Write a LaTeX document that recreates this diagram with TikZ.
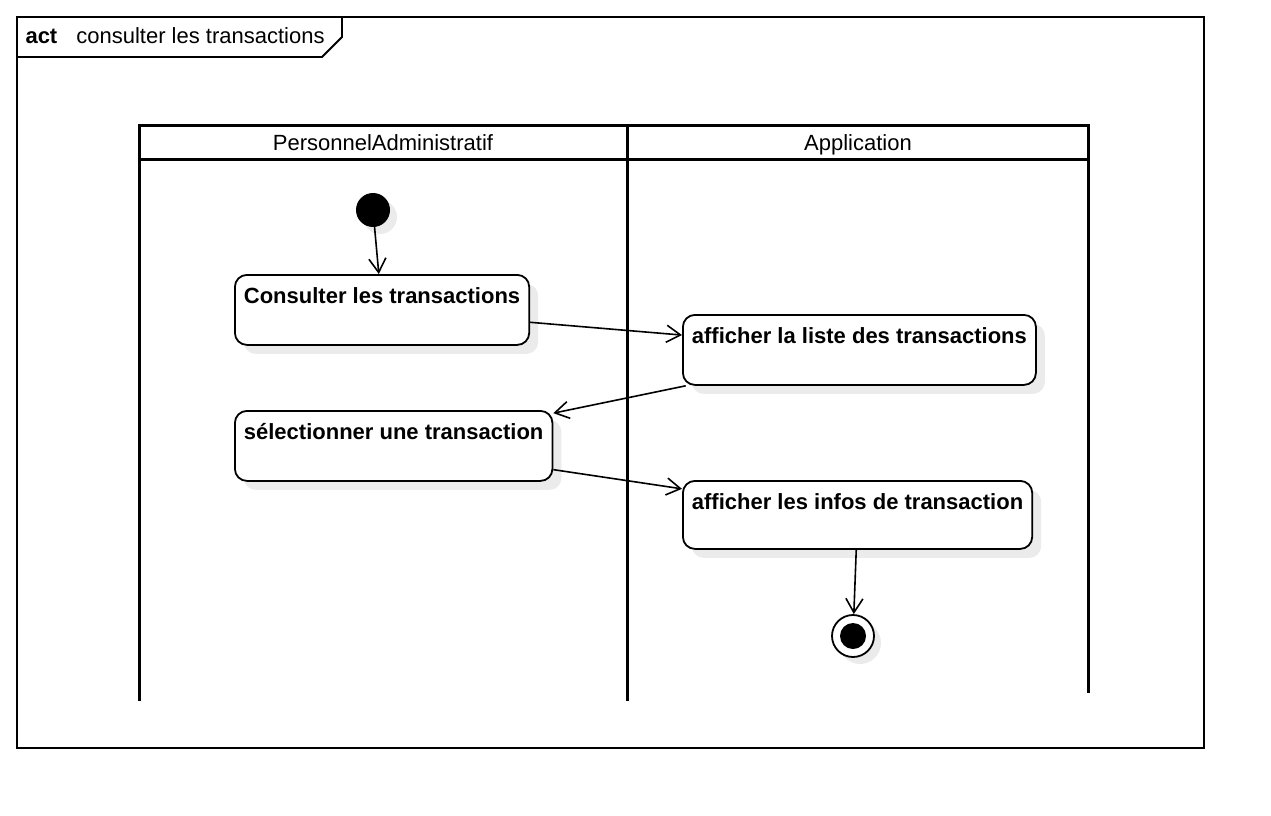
\documentclass[tikz,border=0pt]{standalone}
\usepackage{fontspec}
\setmainfont{Liberation Sans}
\usetikzlibrary{positioning, arrows.meta, shadows}

\begin{document}
\begin{tikzpicture}[x=1pt,y=-1pt,
    font=\fontsize{22}{26}\selectfont,
    >={Straight Barb[length=14pt,width=17pt,line width=1.6pt]},
    lane/.style={line width=3pt},
    action/.style={draw,line width=1.8pt,fill=white,rounded corners=12pt,
      anchor=north west,inner xsep=9pt,inner ysep=0pt,
      text height=29pt,text depth=41pt,font=\fontsize{22}{26}\selectfont\bfseries,
      drop shadow={shadow xshift=9pt,shadow yshift=-9pt,fill=black!8,opacity=1}},
    start/.style={circle,fill=black,minimum size=34pt,inner sep=0pt,
      drop shadow={shadow xshift=7pt,shadow yshift=-7pt,fill=black!8,opacity=1}},
    stop/.style={circle,draw,line width=1.8pt,fill=white,minimum size=42pt,inner sep=0pt,
      drop shadow={shadow xshift=7pt,shadow yshift=-7pt,fill=black!8,opacity=1}}]
      \useasboundingbox (0,0) rectangle (1271,816);
      \fill[white] (0,0) rectangle (1271,816);
      \draw[line width=2pt] (17,17) rectangle (1204,748);
      \draw[line width=1.8pt,fill=white] (17,17) -- (342,17) -- (342,37) -- (322,57) -- (17,57) -- cycle;
      \node[anchor=base west] (title) at (22,44) {\textbf{act}\hspace{19pt}consulter les transactions};
      \filldraw[lane,fill=white] (139,125) rectangle (1088,159);
      \draw[lane] (139,125) -- (139,701);
      \draw[lane] (627,125) -- (627,701);
      \draw[lane] (1088,125) -- (1088,693);
      \node[anchor=base] (lane_1) at (383,150) {PersonnelAdministratif};
      \node[anchor=base] (lane_2) at (858,150) {Application};
      \node[start] (init) at (373,210) {};
      \node[action] (a_1) at (234,274) {Consulter les transactions};
      \node[action] (a_2) at (682,314) {afficher la liste des transactions};
      \node[action] (a_3) at (234,410) {sélectionner une transaction};
      \node[action,text depth=39pt] (a_4) at (682,480) {afficher les infos de transaction};
      \node[stop] (final) at (853,636) {};
      \fill (final.center) circle (13pt);
      \path[->,line width=1.6pt]
      (init) edge (a_1)
      (a_1) edge (a_2)
      (a_2) edge (a_3)
      (a_3) edge (a_4)
      (a_4) edge (final);
    \end{tikzpicture}
\end{document}
